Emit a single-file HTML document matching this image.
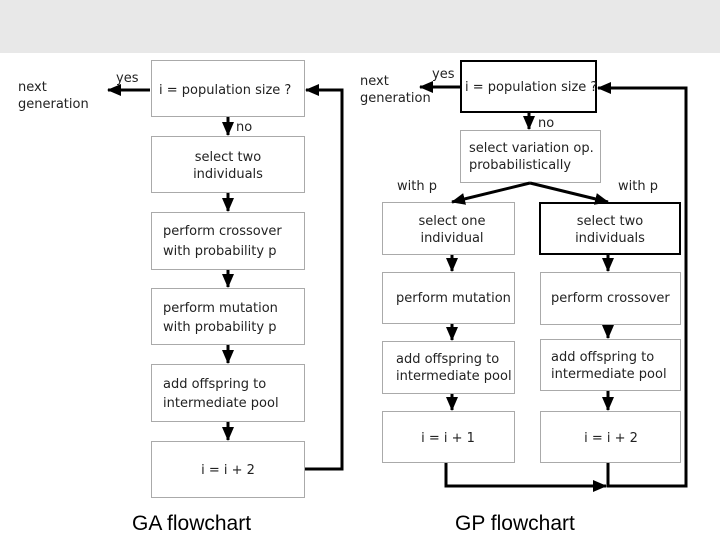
<!DOCTYPE html>
<html><head><meta charset="utf-8"><style>
html,body{margin:0;padding:0;background:#fff;width:720px;height:540px;overflow:hidden}
svg{display:block}
text{font-family:"DejaVu Sans","Liberation Sans",sans-serif;fill:#222}
text.cap{font-family:"Liberation Sans",Arial,sans-serif;fill:#000}
</style></head><body>
<svg width="720" height="540" viewBox="0 0 720 540" xmlns="http://www.w3.org/2000/svg">
<defs>
<marker id="b" markerWidth="14" markerHeight="12" refX="13" refY="6" orient="auto" markerUnits="userSpaceOnUse" viewBox="0 0 14 12">
<path d="M0,0 L14,6 L0,12 z" fill="#000"/></marker>
</defs>
<rect x="0" y="0" width="720" height="53" fill="#e8e8e8"/>
<g fill="#fff" stroke="#aaa" stroke-width="1">
<rect x="151.5" y="60.5" width="153" height="56"/>
<rect x="151.5" y="136.5" width="153" height="56"/>
<rect x="151.5" y="212.5" width="153" height="57"/>
<rect x="151.5" y="288.5" width="153" height="56"/>
<rect x="151.5" y="364.5" width="153" height="57"/>
<rect x="151.5" y="441.5" width="153" height="56"/>
<rect x="460.5" y="130.5" width="140" height="52"/>
<rect x="382.5" y="202.5" width="132" height="52"/>
<rect x="382.5" y="272.5" width="132" height="51"/>
<rect x="540.5" y="272.5" width="140" height="52"/>
<rect x="382.5" y="341.5" width="132" height="52"/>
<rect x="540.5" y="339.5" width="140" height="51"/>
<rect x="382.5" y="411.5" width="132" height="51"/>
<rect x="540.5" y="411.5" width="140" height="51"/>
</g>
<g fill="#fff" stroke="#000" stroke-width="2">
<rect x="461" y="61" width="135" height="51"/>
<rect x="540" y="203" width="140" height="51"/>
</g>
<g stroke="#000" stroke-width="3" fill="none" marker-end="url(#b)">
<line x1="150" y1="90" x2="108" y2="90"/>
<line x1="228" y1="117" x2="228" y2="135"/>
<line x1="228" y1="193" x2="228" y2="211"/>
<line x1="228" y1="270" x2="228" y2="287"/>
<line x1="228" y1="345" x2="228" y2="363"/>
<line x1="228" y1="422" x2="228" y2="440"/>
<polyline points="305,469 342,469 342,90 306,90"/>
<line x1="460" y1="87" x2="420" y2="87"/>
<line x1="529" y1="113" x2="529" y2="129"/>
<line x1="530" y1="183" x2="452" y2="202"/>
<line x1="530" y1="183" x2="608" y2="202"/>
<line x1="452" y1="255" x2="452" y2="271"/>
<line x1="608" y1="255" x2="608" y2="271"/>
<line x1="452" y1="324" x2="452" y2="340"/>
<line x1="608" y1="325" x2="608" y2="338"/>
<line x1="452" y1="394" x2="452" y2="410"/>
<line x1="608" y1="391" x2="608" y2="410"/>
<polyline points="446,463 446,486 606,486"/>
<polyline points="608,463 608,486 686,486 686,88 598,88"/>
</g>
<g font-size="13">
<text x="18" y="91">next</text>
<text x="18" y="108">generation</text>
<text x="116" y="82">yes</text>
<text x="159" y="94">i = population size ?</text>
<text x="236" y="131">no</text>
<text x="228" y="161" text-anchor="middle">select two</text>
<text x="228" y="178" text-anchor="middle">individuals</text>
<text x="163" y="235">perform crossover</text>
<text x="163" y="255">with probability p</text>
<text x="163" y="312">perform mutation</text>
<text x="163" y="331">with probability p</text>
<text x="163" y="388">add offspring to</text>
<text x="163" y="407">intermediate pool</text>
<text x="228" y="474" text-anchor="middle">i = i + 2</text>
<text x="360" y="85">next</text>
<text x="360" y="102">generation</text>
<text x="432" y="78">yes</text>
<text x="465" y="91">i = population size ?</text>
<text x="538" y="127">no</text>
<text x="469" y="152">select variation op.</text>
<text x="469" y="169">probabilistically</text>
<text x="397" y="190">with p</text>
<text x="618" y="190">with p</text>
<text x="452" y="225" text-anchor="middle">select one</text>
<text x="452" y="242" text-anchor="middle">individual</text>
<text x="610" y="225" text-anchor="middle">select two</text>
<text x="610" y="242" text-anchor="middle">individuals</text>
<text x="396" y="302">perform mutation</text>
<text x="551" y="302">perform crossover</text>
<text x="396" y="363">add offspring to</text>
<text x="396" y="380">intermediate pool</text>
<text x="551" y="361">add offspring to</text>
<text x="551" y="378">intermediate pool</text>
<text x="448" y="442" text-anchor="middle">i = i + 1</text>
<text x="611" y="442" text-anchor="middle">i = i + 2</text>
</g>
<text class="cap" x="132" y="530" font-size="21">GA flowchart</text>
<text class="cap" x="455" y="530" font-size="21">GP flowchart</text>
</svg>
</body></html>
